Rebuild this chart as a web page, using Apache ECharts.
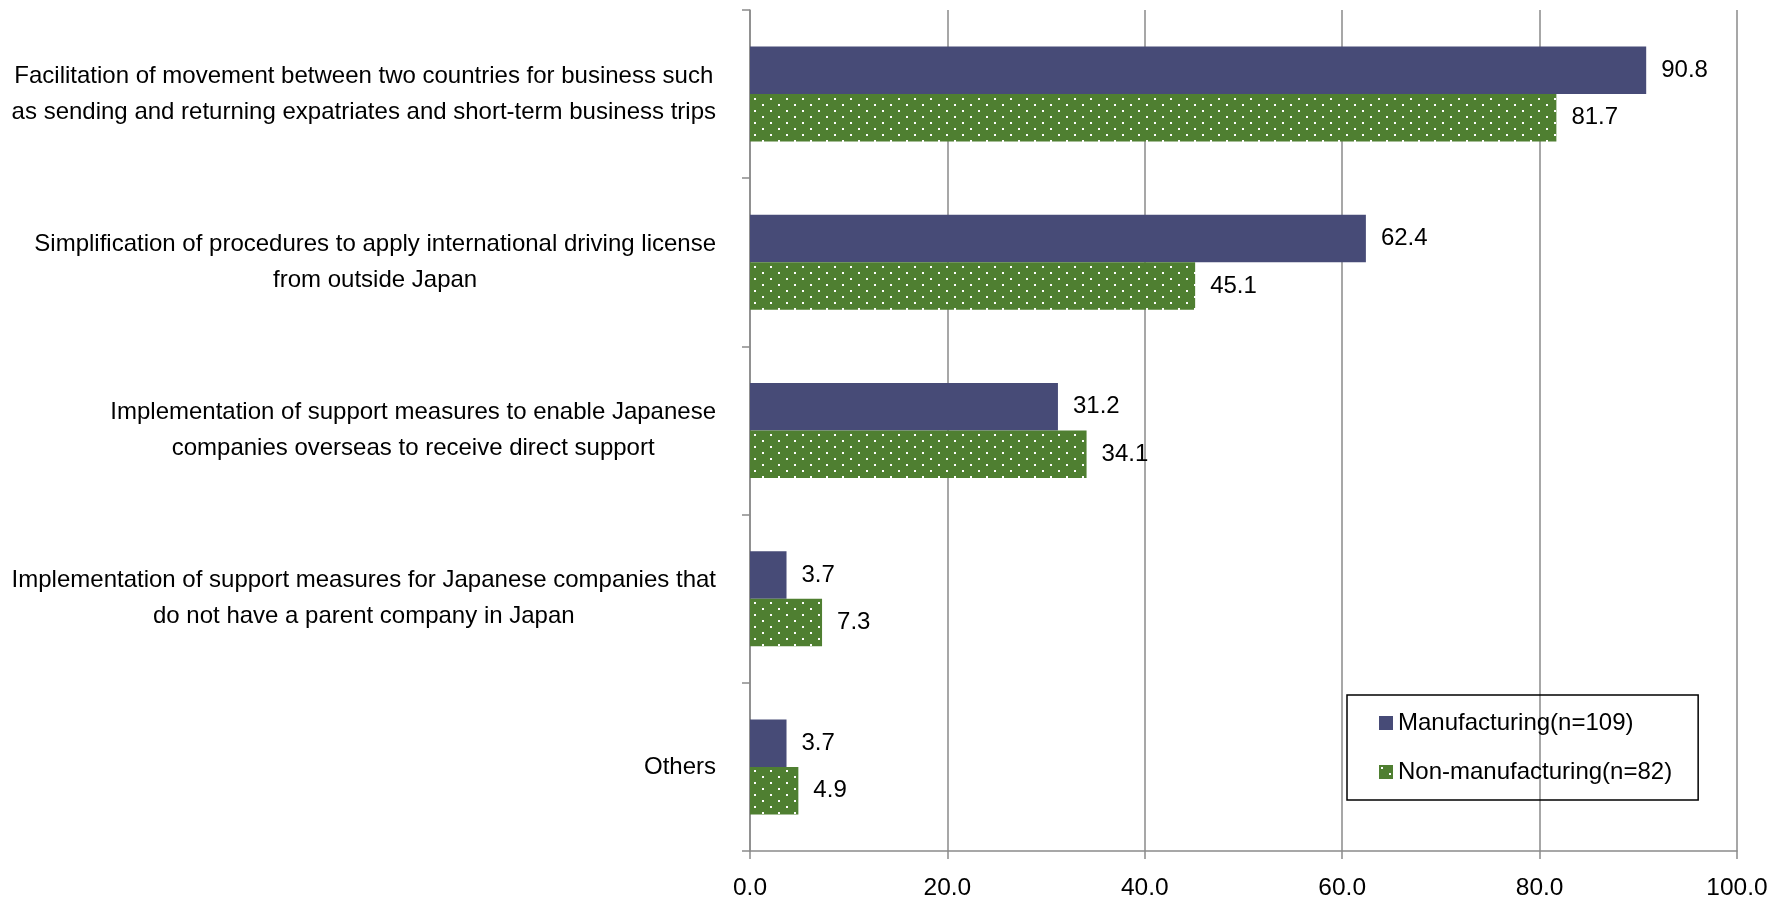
<!DOCTYPE html>
<html>
<head>
<meta charset="utf-8">
<script src="https://cdn.jsdelivr.net/npm/echarts@6/dist/echarts.min.js"></script>
<style>
  html, body { margin: 0; padding: 0; background: #fff; }
  #chart { width: 1783px; height: 902px; }
</style>
</head>
<body>
<div id="chart"></div>
<script>
// data
const categories = [
  'Facilitation of movement between two countries for business such\nas sending and returning expatriates and short-term business trips',
  'Simplification of procedures to apply international driving license\nfrom outside Japan',
  'Implementation of support measures to enable Japanese\ncompanies overseas to receive direct support',
  'Implementation of support measures for Japanese companies that\ndo not have a parent company in Japan',
  'Others'
]
const manufacturing = [90.8, 62.4, 31.2, 3.7, 3.7]
const nonManufacturing = [81.7, 45.1, 34.1, 7.3, 4.9]
const seriesNames = ['Manufacturing(n=109)', 'Non-manufacturing(n=82)']
const xTicks = { min: 0, max: 100, step: 20 }

const FONT = '"Liberation Sans", Arial, sans-serif'
const GRID_GRAY = '#8a8a8a'

// green with white dots, like the excel pattern fill
const makeDots = () => {
  const c = document.createElement('canvas')
  c.width = 16
  c.height = 12
  const ctx = c.getContext('2d')
  ctx.fillStyle = '#4f7f31'
  ctx.fillRect(0, 0, 16, 12)
  ctx.fillStyle = '#ffffff'
  ctx.fillRect(2, 2, 2, 2)
  ctx.fillRect(10, 8, 2, 2)
  return c
}

const valueLabel = {
  show: true,
  position: 'right',
  distance: 15,
  color: '#000',
  fontFamily: FONT,
  fontSize: 24,
  formatter: p => p.value.toFixed(1)
}

const chart = echarts.init(document.getElementById('chart'))
chart.setOption({
  animation: false,
  grid: { left: 750, right: 46, top: 10, bottom: 51, outerBoundsMode: 'none' },
  legend: {
    orient: 'vertical',
    left: 1347,
    top: 695,
    padding: [14, 26, 14, 32],
    borderColor: '#000',
    borderWidth: 1.5,
    itemWidth: 14,
    itemHeight: 14,
    itemGap: 21,
    icon: 'rect',
    textStyle: { fontFamily: FONT, fontSize: 24, lineHeight: 28, color: '#000' },
    data: seriesNames
  },
  xAxis: {
    type: 'value',
    min: xTicks.min,
    max: xTicks.max,
    interval: xTicks.step,
    axisLine: { show: true, lineStyle: { color: GRID_GRAY, width: 1.5 } },
    axisTick: { show: true, length: 8, lineStyle: { color: GRID_GRAY, width: 1.5 } },
    splitLine: { show: true, lineStyle: { color: GRID_GRAY, width: 1.5 } },
    axisLabel: {
      margin: 25,
      color: '#000',
      fontFamily: FONT,
      fontSize: 24.5,
      formatter: v => v.toFixed(1)
    }
  },
  yAxis: {
    type: 'category',
    inverse: true,
    data: categories,
    axisLine: { show: true, lineStyle: { color: GRID_GRAY, width: 1.5 } },
    axisTick: { show: true, length: 8, lineStyle: { color: GRID_GRAY, width: 1.5 } },
    splitLine: { show: false },
    axisLabel: {
      margin: 34,
      align: 'right',
      formatter: v => v.split('\n').map(s => '{c|' + s + '}').join('\n'),
      rich: {
        c: { align: 'center', color: '#000', fontFamily: FONT, fontSize: 24, lineHeight: 36 }
      }
    }
  },
  series: [
    {
      name: seriesNames[0],
      type: 'bar',
      data: manufacturing,
      barWidth: 47.5,
      barGap: '0%',
      itemStyle: { color: '#474b77' },
      label: valueLabel
    },
    {
      name: seriesNames[1],
      type: 'bar',
      data: nonManufacturing,
      barWidth: 47.5,
      barGap: '0%',
      itemStyle: { color: { image: makeDots(), repeat: 'repeat' } },
      label: valueLabel
    }
  ]
})
</script>
</body>
</html>
